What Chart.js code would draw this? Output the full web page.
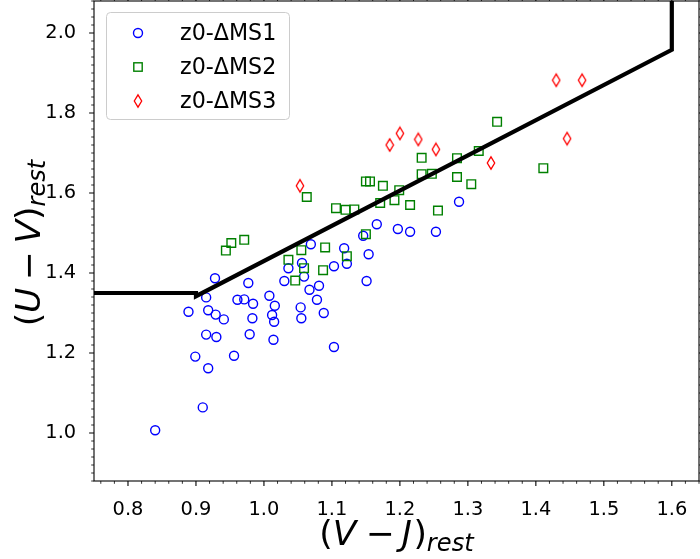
<!DOCTYPE html>
<html>
<head>
<meta charset="utf-8">
<script src="https://cdn.jsdelivr.net/npm/chart.js@4.4.0/dist/chart.umd.min.js"></script>
<style>
  html, body { margin: 0; padding: 0; background: #ffffff; }
  canvas { display: block; }
</style>
</head>
<body>
<canvas id="uvj" width="700" height="559"></canvas>
<script>
// ---- data: rest-frame colours per sample ----
const seriesNames = ['z0-ΔMS1', 'z0-ΔMS2', 'z0-ΔMS3'];

const ms1VJ = [0.840, 0.910, 0.899, 0.918, 0.956, 0.915, 0.930, 0.979, 1.014, 0.889,
               0.918, 0.929, 0.941, 0.983, 0.915, 0.928, 0.961, 0.971, 0.984, 0.977,
               1.008, 1.016, 1.012, 1.015, 1.030, 1.036, 1.056, 1.059, 1.069, 1.067,
               1.081, 1.078, 1.054, 1.055, 1.088, 1.103, 1.118, 1.103, 1.122, 1.146,
               1.154, 1.151, 1.166, 1.197, 1.215, 1.253, 1.287];
const ms1UV = [1.007, 1.064, 1.191, 1.162, 1.193, 1.246, 1.240, 1.247, 1.233, 1.303,
               1.307, 1.296, 1.284, 1.287, 1.339, 1.387, 1.333, 1.334, 1.323, 1.375,
               1.343, 1.318, 1.295, 1.278, 1.380, 1.412, 1.425, 1.391, 1.472, 1.358,
               1.368, 1.333, 1.314, 1.287, 1.300, 1.215, 1.462, 1.417, 1.423, 1.493,
               1.447, 1.380, 1.522, 1.510, 1.503, 1.503, 1.578];

const ms2VJ = [0.944, 0.952, 0.971, 1.063, 1.106, 1.120, 1.133, 1.150, 1.055, 1.090,
               1.036, 1.059, 1.087, 1.122, 1.046, 1.232, 1.150, 1.156, 1.175, 1.199,
               1.171, 1.192, 1.215, 1.232, 1.247, 1.284, 1.316, 1.284, 1.305, 1.256,
               1.343, 1.411];
const ms2UV = [1.456, 1.475, 1.483, 1.590, 1.562, 1.558, 1.559, 1.497, 1.457, 1.464,
               1.433, 1.412, 1.407, 1.442, 1.381, 1.688, 1.629, 1.629, 1.618, 1.607,
               1.575, 1.582, 1.570, 1.647, 1.648, 1.687, 1.705, 1.640, 1.622, 1.556,
               1.778, 1.662];

const ms3VJ = [1.053, 1.185, 1.200, 1.227, 1.253, 1.334, 1.430, 1.468, 1.446];
const ms3UV = [1.618, 1.720, 1.749, 1.734, 1.709, 1.675, 1.882, 1.882, 1.736];

// quiescent / star-forming dividing line
const boundaryVJ = [0.75, 0.90, 0.90, 1.60, 1.60];
const boundaryUV = [1.350, 1.350, 1.342, 1.958, 2.200];

// axes
const xTickVals = [0.8, 0.9, 1.0, 1.1, 1.2, 1.3, 1.4, 1.5, 1.6];
const yTickVals = [1.0, 1.2, 1.4, 1.6, 1.8, 2.0];
const xLimits = [0.75, 1.64];
const yLimits = [0.88, 2.08];

const pairs = (xs, ys) => xs.map((x, i) => ({ x: x, y: ys[i] }));

const FONT = '"DejaVu Sans"';
Chart.defaults.font.family = FONT;
Chart.defaults.color = '#000000';

// thin red diamond marker
function thinDiamond(color) {
  const c = document.createElement('canvas');
  c.width = 10; c.height = 16;
  const g = c.getContext('2d');
  g.strokeStyle = color;
  g.lineWidth = 1.3;
  g.beginPath();
  g.moveTo(5, 1.8); g.lineTo(8.7, 8); g.lineTo(5, 14.2); g.lineTo(1.3, 8);
  g.closePath();
  g.stroke();
  return c;
}
const diamondImg = thinDiamond('#ff0000');

const colors = ['#0000ff', '#008000', '#ff0000'];

// draw "(A − B)_rest" with italic letters and a subscript
function drawMath(ctx, parts, cx, baseY, size) {
  const subSize = size * 0.7;
  const fontOf = p => (p.it ? 'italic ' : '') + (p.sub ? subSize : size) + 'px ' + FONT;
  let total = 0;
  parts.forEach(p => {
    ctx.font = fontOf(p);
    p.w = p.gap ? p.gap * size : ctx.measureText(p.t).width;
    total += p.w;
  });
  let x = cx - total / 2;
  ctx.textAlign = 'left';
  ctx.textBaseline = 'alphabetic';
  ctx.fillStyle = '#000000';
  parts.forEach(p => {
    if (!p.gap) {
      ctx.font = fontOf(p);
      ctx.fillText(p.t, x, baseY + (p.sub ? size * 0.16 : 0));
    }
    x += p.w;
  });
}

const decorations = {
  id: 'decorations',
  afterDraw(chart) {
    const ctx = chart.ctx;
    const a = chart.chartArea;
    const xs = chart.scales.x, ys = chart.scales.y;
    ctx.save();

    // spines
    ctx.strokeStyle = '#000000';
    ctx.lineWidth = 1.1;
    ctx.strokeRect(a.left, a.top, a.right - a.left, a.bottom - a.top);

    // major + minor ticks (minor every 0.02)
    const isMajor = (v, step) => Math.abs(v / step - Math.round(v / step)) < 1e-6;
    for (let i = Math.ceil(xLimits[0] / 0.02 - 1e-9); i * 0.02 <= xLimits[1] + 1e-9; i++) {
      const v = i * 0.02;
      const px = xs.getPixelForValue(v);
      const major = isMajor(v, 0.1);
      ctx.lineWidth = major ? 1.1 : 0.8;
      const len = major ? 4.9 : 2.8;
      ctx.beginPath();
      ctx.moveTo(px, a.bottom); ctx.lineTo(px, a.bottom + len);
      ctx.moveTo(px, a.top); ctx.lineTo(px, a.top - len);
      ctx.stroke();
    }
    for (let i = Math.ceil(yLimits[0] / 0.02 - 1e-9); i * 0.02 <= yLimits[1] + 1e-9; i++) {
      const v = i * 0.02;
      const py = ys.getPixelForValue(v);
      const major = isMajor(v, 0.2);
      ctx.lineWidth = major ? 1.1 : 0.8;
      const len = major ? 4.9 : 2.8;
      ctx.beginPath();
      ctx.moveTo(a.left, py); ctx.lineTo(a.left - len, py);
      ctx.moveTo(a.right, py); ctx.lineTo(a.right + len, py);
      ctx.stroke();
    }

    // axis titles
    const size = 34.5;
    drawMath(ctx, [
      { t: '(' }, { t: 'V', it: true }, { gap: 0.28 }, { t: '−' }, { gap: 0.2 },
      { t: 'J', it: true }, { gap: 0.04 }, { t: ')' }, { t: 'rest', it: true, sub: true }
    ], (a.left + a.right) / 2, 545, size);

    ctx.save();
    ctx.translate(39.5, (a.top + a.bottom) / 2 + 2);
    ctx.rotate(-Math.PI / 2);
    drawMath(ctx, [
      { t: '(' }, { t: 'U', it: true }, { gap: 0.22 }, { t: '−' }, { gap: 0.22 },
      { t: 'V', it: true }, { t: ')' }, { t: 'rest', it: true, sub: true }
    ], 0, 0, size);
    ctx.restore();

    // legend
    const bx = 106.5, by = 12.5, bw = 183, bh = 107;
    ctx.beginPath();
    ctx.roundRect(bx, by, bw, bh, 4);
    ctx.fillStyle = 'rgba(255,255,255,0.8)';
    ctx.fill();
    ctx.strokeStyle = '#cccccc';
    ctx.lineWidth = 1;
    ctx.stroke();

    const rowY = [33, 67, 101];
    const mx = 138;
    // circle
    ctx.strokeStyle = colors[0];
    ctx.lineWidth = 1.4;
    ctx.beginPath();
    ctx.arc(mx, rowY[0], 4.5, 0, Math.PI * 2);
    ctx.stroke();
    // square
    ctx.strokeStyle = colors[1];
    ctx.strokeRect(mx - 4.2, rowY[1] - 4.2, 8.4, 8.4);
    // diamond
    ctx.drawImage(diamondImg, mx - 5, rowY[2] - 8);

    ctx.fillStyle = '#000000';
    ctx.font = '22.2px ' + FONT;
    ctx.textAlign = 'left';
    ctx.textBaseline = 'middle';
    seriesNames.forEach((name, i) => ctx.fillText(name, 180, rowY[i] + 1));

    ctx.restore();
  }
};

new Chart(document.getElementById('uvj'), {
  type: 'scatter',
  data: {
    datasets: [
      {
        type: 'line',
        label: 'boundary',
        data: pairs(boundaryVJ, boundaryUV),
        borderColor: '#000000',
        borderWidth: 4.2,
        borderJoinStyle: 'miter',
        pointRadius: 0,
        fill: false,
        tension: 0,
        order: 0
      },
      {
        label: seriesNames[2],
        data: pairs(ms3VJ, ms3UV),
        pointStyle: diamondImg,
        order: 1
      },
      {
        label: seriesNames[1],
        data: pairs(ms2VJ, ms2UV),
        pointStyle: 'rect',
        pointRadius: 6.1,
        pointBorderWidth: 1.4,
        pointBorderColor: colors[1],
        pointBackgroundColor: 'rgba(0,0,0,0)',
        order: 2
      },
      {
        label: seriesNames[0],
        data: pairs(ms1VJ, ms1UV),
        pointStyle: 'circle',
        pointRadius: 4.5,
        pointBorderWidth: 1.4,
        pointBorderColor: colors[0],
        pointBackgroundColor: 'rgba(0,0,0,0)',
        order: 3
      }
    ]
  },
  options: {
    responsive: false,
    animation: false,
    devicePixelRatio: 1,
    events: [],
    layout: { autoPadding: false, padding: { top: 1, right: 1, left: 0, bottom: 0 } },
    plugins: { legend: { display: false }, tooltip: { enabled: false } },
    scales: {
      x: {
        type: 'linear',
        min: xLimits[0],
        max: xLimits[1],
        afterBuildTicks: s => { s.ticks = xTickVals.map(v => ({ value: v })); },
        afterFit: s => { s.height = 78; s.paddingLeft = 0; s.paddingRight = 0; },
        grid: { display: false },
        border: { display: false },
        ticks: {
          padding: 9,
          font: { size: 19.4 },
          color: '#000000',
          maxRotation: 0,
          callback: v => v.toFixed(1)
        }
      },
      y: {
        type: 'linear',
        min: yLimits[0],
        max: yLimits[1],
        afterBuildTicks: s => { s.ticks = yTickVals.map(v => ({ value: v })); },
        afterFit: s => { s.width = 94; s.paddingTop = 0; s.paddingBottom = 0; },
        grid: { display: false },
        border: { display: false },
        ticks: {
          padding: 9.8,
          font: { size: 19.4 },
          color: '#000000',
          callback: v => v.toFixed(1)
        }
      }
    }
  },
  plugins: [decorations]
});
</script>
</body>
</html>
